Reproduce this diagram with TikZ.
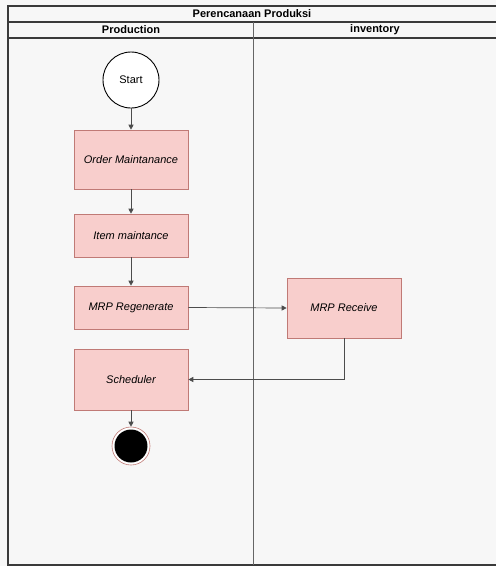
\documentclass[tikz,border=0pt]{standalone}
\usepackage{fontspec}
\setmainfont{Liberation Sans}
\usetikzlibrary{arrows.meta}
\definecolor{bg}{HTML}{F7F7F7}
\definecolor{boxfill}{HTML}{F8CECC}
\definecolor{boxline}{HTML}{C07A76}
\definecolor{frameline}{HTML}{3A3A3A}
\begin{document}
\begin{tikzpicture}[x=1pt,y=-1pt,
  lane/.style={draw=frameline,line width=1.1pt},
  proc/.style={draw=boxline,fill=boxfill,line width=0.6pt,font=\fontsize{11}{13}\selectfont\itshape,inner sep=0pt},
  conn/.style={draw=black!70,line width=0.7pt,-{Triangle[length=5pt,width=5pt]}},
  head/.style={font=\fontsize{11}{13}\selectfont\bfseries}]
\useasboundingbox (0,0) rectangle (496,566);
\fill[bg] (0,0) rectangle (496,566);
% frame
\draw[lane] (8,6) rectangle (500,565);
\draw[lane] (8,22) -- (500,22);
\draw[lane] (8,38) -- (500,38);
\draw[lane,line width=0.8pt,draw=black!60] (253,22) -- (253,565);
\node[head] (title) at (252,14) {Perencanaan Produksi};
\node[head] (lp) at (131,30) {Production};
\node[head] (li) at (375,30) {inventory};
% nodes
\node[draw=black,fill=white,line width=0.9pt,circle,minimum size=56pt,inner sep=0pt,font=\fontsize{11}{13}\selectfont] (start) at (131,80) {Start};
\node[proc,minimum width=114pt,minimum height=59pt] (om) at (131,159.5) {Order Maintanance};
\node[proc,minimum width=114pt,minimum height=43pt] (im) at (131,235.5) {Item maintance};
\node[proc,minimum width=114pt,minimum height=43pt] (mrg) at (131,307.5) {MRP Regenerate};
\node[proc,minimum width=114pt,minimum height=60pt] (mrc) at (344,308) {MRP Receive};
\node[proc,minimum width=114pt,minimum height=61pt] (sch) at (131,379.5) {Scheduler};
\node[circle,draw=boxline,fill=white,line width=0.6pt,minimum size=38pt,inner sep=0pt] (end) at (131,446) {};
\fill[black] (end.center) circle (16.5pt);
% connectors
\draw[conn] (start) -- (om);
\draw[conn] (om) -- (im);
\draw[conn] (im) -- (mrg);
\draw[conn] (mrg.east) -- (mrc.west);
\draw[conn] (mrc.south) |- (sch.east);
\draw[conn] (sch) -- (end);
\end{tikzpicture}
\end{document}
